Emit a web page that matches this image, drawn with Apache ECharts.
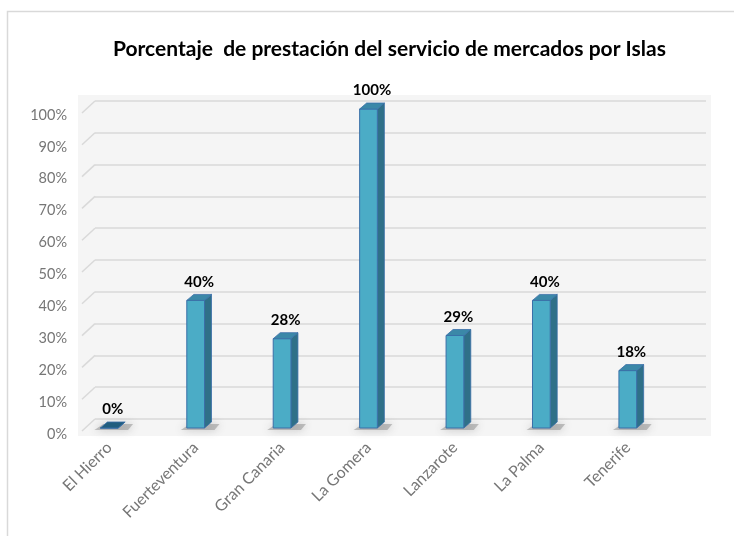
<!DOCTYPE html>
<html>
<head>
<meta charset="utf-8">
<script src="https://cdn.jsdelivr.net/npm/echarts@6/dist/echarts.min.js"></script>
<style>
  html, body { margin: 0; padding: 0; background: #fff; }
  #chart { width: 734px; height: 536px; }
</style>
</head>
<body>
<div id="chart"></div>
<script>
// datos
const islas = ['El Hierro', 'Fuerteventura', 'Gran Canaria', 'La Gomera', 'Lanzarote', 'La Palma', 'Tenerife'];
const porcentajes = [0, 40, 28, 100, 29, 40, 18];
const yTicks = [0, 10, 20, 30, 40, 50, 60, 70, 80, 90, 100];

const FONT = 'Lato, "Open Sans", sans-serif';
const DX = 7, DY = -6;          // profundidad de las barras
const GX = 13, GY = 12;         // profundidad de las lineas de fondo

const chart = echarts.init(document.getElementById('chart'));

function renderBar(params, api) {
  const i = api.value(0);
  const v = api.value(1);
  const base = api.coord([i, 0]);
  const top = api.coord([i, v]);
  const w = api.size([1, 0])[0] * 0.205;
  const x0 = base[0] - w / 2, x1 = base[0] + w / 2;
  const yb = base[1], yt = top[1];
  const edge = '#3a6fa8';
  const children = [
    {
      type: 'polygon',
      shape: { points: [[x0 - 6, yb + 2], [x1 + 10, yb + 2], [x1 + DX + 8, yb + DY + 2], [x0 + DX - 4, yb + DY + 2]] },
      style: { fill: 'rgba(100,100,100,0.35)', shadowBlur: 8, shadowColor: 'rgba(70,70,70,0.8)' },
      z2: 0
    },
    {
      type: 'polygon',
      shape: { points: [[x1, yt], [x1 + DX, yt + DY], [x1 + DX, yb + DY], [x1, yb]] },
      style: { fill: '#2f7088', stroke: edge, lineWidth: 0.8 },
      z2: 1
    },
    {
      type: 'rect',
      shape: { x: x0, y: yt, width: w, height: yb - yt },
      style: { fill: '#4bacc6', stroke: edge, lineWidth: 1 },
      z2: 2
    },
    {
      type: 'polygon',
      shape: { points: [[x0, yt], [x0 + DX, yt + DY], [x1 + DX, yt + DY], [x1, yt]] },
      style: { fill: v === 0 ? '#215d7e' : '#3b88a8', stroke: edge, lineWidth: 0.8 },
      z2: 3
    },
    {
      type: 'text',
      style: {
        x: base[0] + DX / 2, y: yt + DY - 5,
        text: v + '%', align: 'center', verticalAlign: 'bottom',
        font: 'bold 15px ' + FONT, fill: '#000'
      },
      z2: 4
    }
  ];
  return { type: 'group', children: children };
}

function renderDiag(params, api) {
  const p = api.coord([0, api.value(1)]);
  return {
    type: 'line',
    shape: { x1: p[0] - GX, y1: p[1] + GY, x2: p[0], y2: p[1] },
    style: { stroke: '#d9d9d9', lineWidth: 1.5 }
  };
}

chart.setOption({
  animation: false,
  title: {
    text: 'Porcentaje  de prestación del servicio de mercados por Islas',
    left: 108,
    top: 34,
    textStyle: { fontFamily: FONT, fontWeight: 'bold', fontSize: 21, color: '#000' }
  },
  graphic: [
    { type: 'rect', shape: { x: 7.5, y: 11.5, width: 740, height: 540 }, style: { fill: 'none', stroke: '#d9d9d9', lineWidth: 1.5 }, z: -10 },
    { type: 'rect', shape: { x: 78, y: 95, width: 633, height: 341 }, style: { fill: '#f5f5f5' }, z: -9 }
  ],
  grid: [
    { left: 66, right: 63, top: 109, bottom: 108 },
    { left: 95, right: 28, top: 101, bottom: 117 }
  ],
  xAxis: [
    {
      type: 'category', gridIndex: 0, data: islas,
      axisLine: { show: false }, axisTick: { show: false },
      axisLabel: { rotate: 45, margin: 17, interval: 0, color: '#767676', fontFamily: FONT, fontSize: 16 }
    },
    { type: 'value', gridIndex: 1, min: 0, max: 1, show: false }
  ],
  yAxis: [
    {
      type: 'value', gridIndex: 0, min: 0, max: 100, interval: 10,
      axisLine: { show: false }, axisTick: { show: false }, splitLine: { show: false },
      axisLabel: { formatter: '{value}%', margin: -1, verticalAlign: 'top', lineHeight: 12, color: '#767676', fontFamily: FONT, fontSize: 14.5 }
    },
    {
      type: 'value', gridIndex: 1, min: 0, max: 100, interval: 10,
      axisLine: { show: false }, axisTick: { show: false }, axisLabel: { show: false },
      splitLine: { lineStyle: { color: '#d9d9d9', width: 1.5 } }
    }
  ],
  series: [
    {
      type: 'custom', xAxisIndex: 1, yAxisIndex: 1,
      renderItem: renderDiag,
      data: yTicks.map(t => [0, t]),
      silent: true, z: 1
    },
    {
      type: 'custom', xAxisIndex: 0, yAxisIndex: 0,
      renderItem: renderBar,
      data: porcentajes.map((v, i) => [i, v]),
      z: 5
    }
  ]
});
</script>
</body>
</html>
